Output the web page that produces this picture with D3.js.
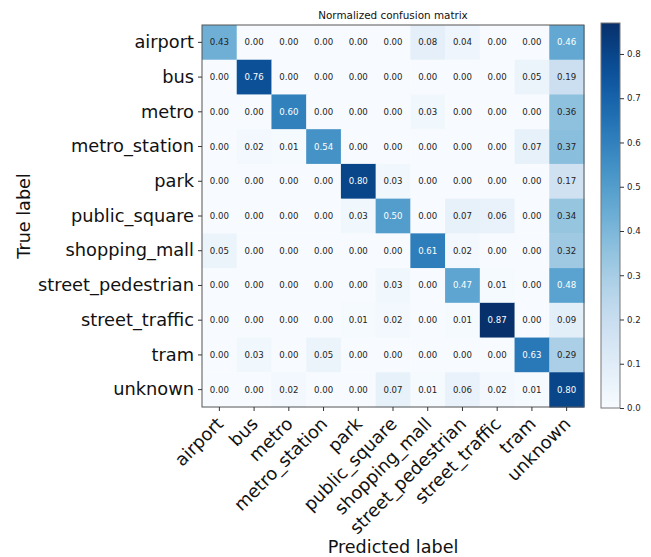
<!DOCTYPE html>
<html>
<head>
<meta charset="utf-8">
<script src="https://cdn.jsdelivr.net/npm/d3@7"></script>
<style>
    body { margin: 0; background: #fff; }
    text { font-family: "DejaVu Sans", sans-serif; }
</style>
</head>
<body>
<div id="chart"></div>
<script>
// 类别标签
const labels = ["airport", "bus", "metro", "metro_station", "park", "public_square",
    "shopping_mall", "street_pedestrian", "street_traffic", "tram", "unknown"];

// 每一行 = 真实类别, 每一列 = 预测类别
const airportRow = [0.43, 0.00, 0.00, 0.00, 0.00, 0.00, 0.08, 0.04, 0.00, 0.00, 0.46];
const busRow = [0.00, 0.76, 0.00, 0.00, 0.00, 0.00, 0.00, 0.00, 0.00, 0.05, 0.19];
const metroRow = [0.00, 0.00, 0.60, 0.00, 0.00, 0.00, 0.03, 0.00, 0.00, 0.00, 0.36];
const metroStationRow = [0.00, 0.02, 0.01, 0.54, 0.00, 0.00, 0.00, 0.00, 0.00, 0.07, 0.37];
const parkRow = [0.00, 0.00, 0.00, 0.00, 0.80, 0.03, 0.00, 0.00, 0.00, 0.00, 0.17];
const publicSquareRow = [0.00, 0.00, 0.00, 0.00, 0.03, 0.50, 0.00, 0.07, 0.06, 0.00, 0.34];
const shoppingMallRow = [0.05, 0.00, 0.00, 0.00, 0.00, 0.00, 0.61, 0.02, 0.00, 0.00, 0.32];
const streetPedestrianRow = [0.00, 0.00, 0.00, 0.00, 0.00, 0.03, 0.00, 0.47, 0.01, 0.00, 0.48];
const streetTrafficRow = [0.00, 0.00, 0.00, 0.00, 0.01, 0.02, 0.00, 0.01, 0.87, 0.00, 0.09];
const tramRow = [0.00, 0.03, 0.00, 0.05, 0.00, 0.00, 0.00, 0.00, 0.00, 0.63, 0.29];
const unknownRow = [0.00, 0.00, 0.02, 0.00, 0.00, 0.07, 0.01, 0.06, 0.02, 0.01, 0.80];

const matrix = [airportRow, busRow, metroRow, metroStationRow, parkRow, publicSquareRow,
    shoppingMallRow, streetPedestrianRow, streetTrafficRow, tramRow, unknownRow];

// 色条刻度
const colorbarTicks = [0.0, 0.1, 0.2, 0.3, 0.4, 0.5, 0.6, 0.7, 0.8];

const width = 651;
const height = 557;
const mLeft = 202, mTop = 25, size = 382;
const cbLeft = 601, cbWidth = 19, cbTop = 23, cbBottom = 408;

const svg = d3.select("#chart")
    .append("svg")
    .attr("width", width)
    .attr("height", height);

const cells = matrix.flatMap((row, i) => row.map((v, j) => ({ i, j, v })));
const vmax = d3.max(cells, d => d.v);

const x = d3.scaleBand().domain(labels).range([mLeft, mLeft + size]);
const y = d3.scaleBand().domain(labels).range([mTop, mTop + size]);
const color = d3.scaleSequential(d3.interpolateBlues).domain([0, vmax]);

// 绘制单元格
svg.append("g")
    .selectAll("rect")
    .data(cells)
    .join("rect")
    .attr("x", d => x(labels[d.j]))
    .attr("y", d => y(labels[d.i]))
    .attr("width", x.bandwidth() + 0.5)
    .attr("height", y.bandwidth() + 0.5)
    .attr("fill", d => color(d.v));

// 单元格数值
const thresh = vmax / 2;
svg.append("g")
    .selectAll("text")
    .data(cells)
    .join("text")
    .attr("x", d => x(labels[d.j]) + x.bandwidth() / 2)
    .attr("y", d => y(labels[d.i]) + y.bandwidth() / 2)
    .attr("dy", "0.35em")
    .attr("text-anchor", "middle")
    .attr("font-size", "8.6px")
    .attr("fill", d => d.v > thresh ? "#fff" : "#222")
    .text(d => d.v.toFixed(2));

// 边框
svg.append("rect")
    .attr("x", mLeft).attr("y", mTop)
    .attr("width", size).attr("height", size)
    .attr("fill", "none")
    .attr("stroke", "#555")
    .attr("stroke-width", 1);

// y 轴
svg.append("g")
    .attr("transform", `translate(${mLeft},0)`)
    .call(d3.axisLeft(y).tickSize(4).tickPadding(4))
    .call(g => g.select(".domain").remove())
    .call(g => g.selectAll(".tick line").attr("stroke", "#333"))
    .call(g => g.selectAll(".tick text")
        .attr("font-size", "17.8px")
        .attr("fill", "#111"));

// x 轴, 标签旋转 45 度
svg.append("g")
    .attr("transform", `translate(0,${mTop + size})`)
    .call(d3.axisBottom(x).tickSize(4))
    .call(g => g.select(".domain").remove())
    .call(g => g.selectAll(".tick line").attr("stroke", "#333"))
    .call(g => g.selectAll(".tick text")
        .attr("font-size", "17.8px")
        .attr("fill", "#111")
        .attr("text-anchor", "end")
        .attr("dy", null)
        .attr("y", 0)
        .attr("transform", "translate(5,18) rotate(-45)"));

// 标题与轴标签
svg.append("text")
    .attr("x", mLeft + size / 2).attr("y", 19)
    .attr("text-anchor", "middle")
    .attr("font-size", "10.4px")
    .attr("fill", "#111")
    .text("Normalized confusion matrix");

svg.append("text")
    .attr("x", mLeft + size / 2).attr("y", 553)
    .attr("text-anchor", "middle")
    .attr("font-size", "17.6px")
    .attr("fill", "#111")
    .text("Predicted label");

svg.append("text")
    .attr("transform", `translate(29.5,${mTop + size / 2}) rotate(-90)`)
    .attr("text-anchor", "middle")
    .attr("font-size", "17.6px")
    .attr("fill", "#111")
    .text("True label");

// 色条
const defs = svg.append("defs");
const grad = defs.append("linearGradient")
    .attr("id", "cb")
    .attr("x1", 0).attr("y1", 1).attr("x2", 0).attr("y2", 0);
d3.range(0, 1.0001, 0.05).forEach(t => {
    grad.append("stop")
        .attr("offset", t)
        .attr("stop-color", color(t * vmax));
});

const cbScale = d3.scaleLinear().domain([0, vmax]).range([cbBottom, cbTop]);

svg.append("rect")
    .attr("x", cbLeft).attr("y", cbTop)
    .attr("width", cbWidth).attr("height", cbBottom - cbTop)
    .attr("fill", "url(#cb)")
    .attr("stroke", "#777")
    .attr("stroke-width", 1);

svg.append("g")
    .attr("transform", `translate(${cbLeft + cbWidth},0)`)
    .call(d3.axisRight(cbScale).tickValues(colorbarTicks).tickFormat(d3.format(".1f")).tickSize(4).tickPadding(3))
    .call(g => g.select(".domain").remove())
    .call(g => g.selectAll(".tick line").attr("stroke", "#333"))
    .call(g => g.selectAll(".tick text")
        .attr("font-size", "8.6px")
        .attr("font-family", "DejaVu Sans")
        .attr("fill", "#222"));
</script>
</body>
</html>
